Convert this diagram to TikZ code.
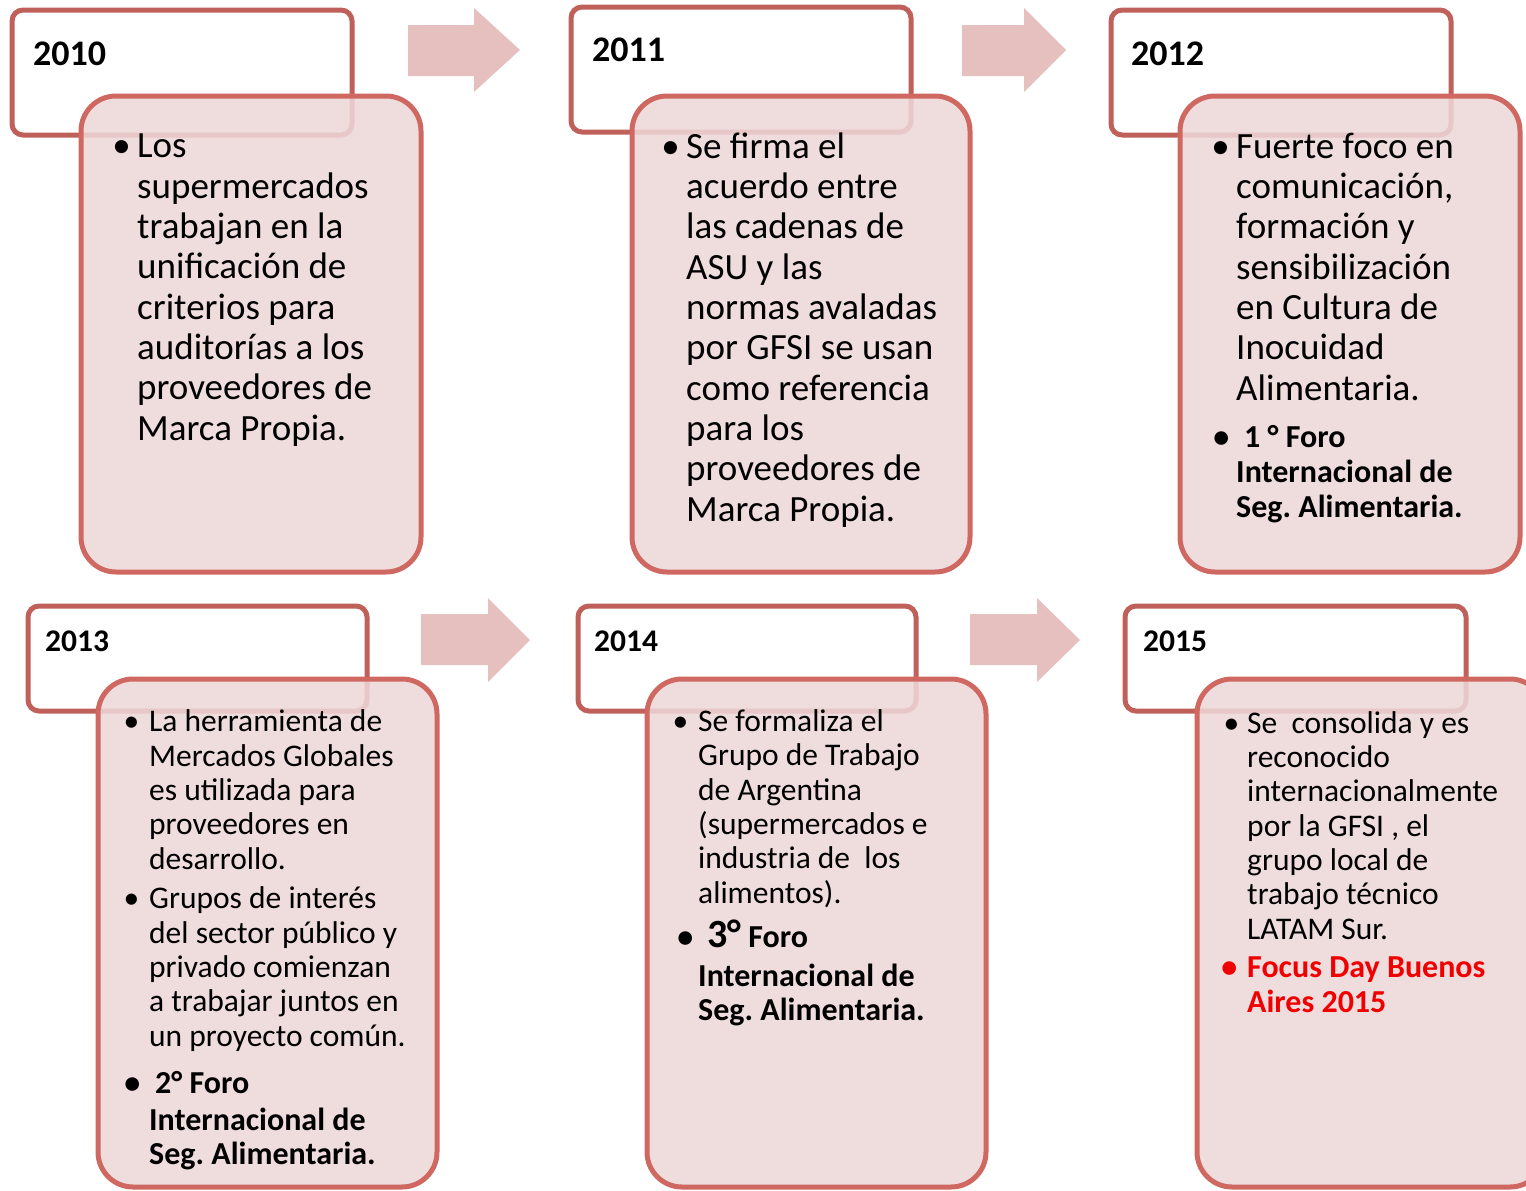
\documentclass[tikz,border=0pt]{standalone}
\usepackage{fontspec}
\setmainfont{Carlito}
\definecolor{yearred}{RGB}{192,96,90}
\definecolor{boxred}{RGB}{208,104,98}
\definecolor{boxfill}{RGB}{237,215,216}
\definecolor{arrowpink}{RGB}{229,192,190}
\definecolor{focusred}{RGB}{240,0,0}
\newcommand{\mybul}[1]{\llap{•\hspace*{#1}}}
\tikzset{
  yearbox/.style={draw=yearred, line width=5pt, fill=white, rounded corners=11pt},
  infobox/.style={draw=boxred, line width=5pt, fill=boxfill, fill opacity=0.87, rounded corners=35pt},
  arrowshape/.style={fill=arrowpink, draw=none},
  yearA/.style={font=\bfseries\fontsize{36}{40}\selectfont, anchor=base west, inner sep=0pt},
  yearB/.style={font=\bfseries\fontsize{31.5}{34}\selectfont, anchor=base west, inner sep=0pt},
  bodyA/.style={font=\fontsize{37}{40.3}\selectfont, align=left, anchor=base west, inner sep=0pt},
  boldA/.style={font=\bfseries\fontsize{32}{35}\selectfont, align=left, anchor=base west, inner sep=0pt},
  bodyB/.style={font=\fontsize{31.5}{34.3}\selectfont, align=left, anchor=base west, inner sep=0pt},
  boldB/.style={font=\bfseries\fontsize{32}{34}\selectfont, align=left, anchor=base west, inner sep=0pt},
}
\begin{document}
\frenchspacing
\begin{tikzpicture}[x=1pt,y=-1pt]
\useasboundingbox (0,0) rectangle (1526,1191);
\clip (0,0) rectangle (1526,1191);

% ---------- row 1 ----------
\draw[yearbox] (12,10) rectangle (352,135);
\draw[yearbox] (571,7) rectangle (911,132);
\draw[yearbox] (1111,10) rectangle (1451,135);

\fill[arrowshape] (408,25) -- (474,25) -- (474,8) -- (520,50) -- (474,92) -- (474,76) -- (408,76) -- cycle;
\fill[arrowshape] (962,25) -- (1024,25) -- (1024,8) -- (1066,50) -- (1024,92) -- (1024,76) -- (962,76) -- cycle;

\draw[infobox] (81,96) rectangle (421,572);
\draw[infobox] (632,96) rectangle (970,572);
\draw[infobox] (1180,96) rectangle (1520,572);

\node[yearA] (y2010) at (33,65) {2010};
\node[yearA] (y2011) at (592,61) {2011};
\node[yearA] (y2012) at (1131,65) {2012};

% anchor "base" of a multi-line node = baseline of its last line
\node[bodyA] (b2010) at (137,440) {\mybul{6.5pt}Los\\supermercados\\trabajan en la\\unificación de\\criterios para\\auditorías a los\\proveedores de\\Marca Propia.};
\node[bodyA] (b2011) at (686,521) {\mybul{6.5pt}Se firma el\\acuerdo entre\\las cadenas de\\ASU y las\\normas avaladas\\por GFSI se usan\\como referencia\\para los\\proveedores de\\Marca Propia.};
\node[bodyA] (b2012) at (1236,400) {\mybul{6.5pt}Fuerte foco en\\comunicación,\\formación y\\sensibilización\\en Cultura de\\Inocuidad\\Alimentaria.};
\node[boldA] (f2012) at (1236,517) {\mybul{7pt}\hspace*{8pt}1 ° Foro\\Internacional de\\Seg. Alimentaria.};

% ---------- row 2 ----------
\draw[yearbox] (28,606) rectangle (367,711);
\draw[yearbox] (578,606) rectangle (916,711);
\draw[yearbox] (1125,606) rectangle (1466,711);

\fill[arrowshape] (421,614) -- (488,614) -- (488,598) -- (530,640) -- (488,682) -- (488,665) -- (421,665) -- cycle;
\fill[arrowshape] (970,614) -- (1037,614) -- (1037,598) -- (1080,640) -- (1037,682) -- (1037,665) -- (970,665) -- cycle;

\draw[infobox] (98,679) rectangle (437,1187);
\draw[infobox] (647,679) rectangle (986,1187);
\draw[infobox] (1197,679) rectangle (1545,1187);

\node[yearB] (y2013) at (45,651) {2013};
\node[yearB] (y2014) at (594,651) {2014};
\node[yearB] (y2015) at (1143,651) {2015};

\node[bodyB] (b2013a) at (149,869) {\mybul{10pt}La herramienta de\\Mercados Globales\\es utilizada para\\proveedores en\\desarrollo.};
\node[bodyB] (b2013b) at (149,1046) {\mybul{10pt}Grupos de interés\\del sector público y\\privado comienzan\\a trabajar juntos en\\un proyecto común.};
\node[boldB] (f2013) at (149,1164) {\mybul{9pt}\hspace*{6pt}2° Foro\\[3pt]Internacional de\\Seg. Alimentaria.};

\node[bodyB] (b2014) at (698,903) {\mybul{10pt}Se formaliza el\\Grupo de Trabajo\\de Argentina\\(supermercados e\\industria de\ \ los\\alimentos).};
\node[boldB] (f2014) at (698,1020) {\mybul{5pt}\hspace*{9pt}{\fontsize{40}{40}\selectfont 3°} Foro\\[5pt]Internacional de\\Seg. Alimentaria.};

\node[bodyB] (b2015) at (1247,939) {\mybul{8pt}Se\ \ consolida y es\\reconocido\\internacionalmente\\por la GFSI , el\\grupo local de\\trabajo técnico\\LATAM Sur.};
\node[boldB, text=focusred, font=\bfseries\fontsize{32}{35}\selectfont] (f2015) at (1247,1012) {\mybul{10pt}Focus Day Buenos\\Aires 2015};
\end{tikzpicture}
\end{document}
